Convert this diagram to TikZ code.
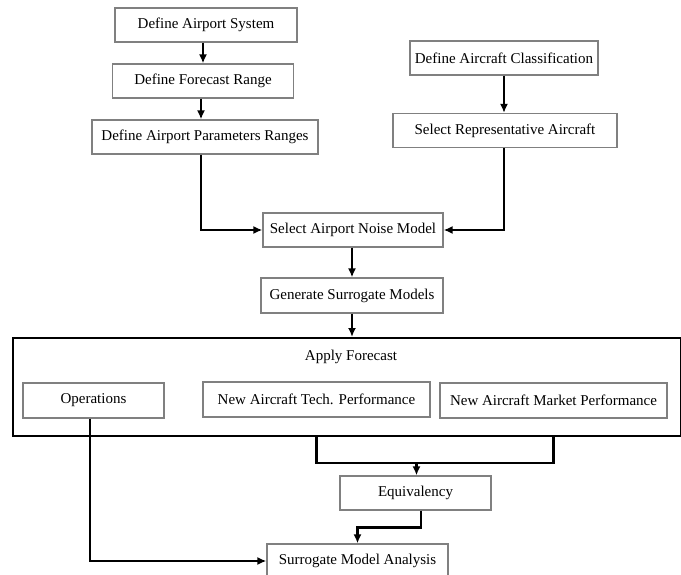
\documentclass[tikz,border=0pt]{standalone}
\usepackage{fontspec}
\setmainfont{Liberation Serif}
\usetikzlibrary{arrows.meta}
\begin{document}
\begin{tikzpicture}[x=1pt,y=-1pt,
  box/.style={draw=black!50,line width=1.2pt,minimum height=34pt,inner sep=0pt,
    font=\fontsize{15}{18}\selectfont},
  arr/.style={line width=2.7pt,-{Latex[length=9pt,width=8pt]}},
  lnk/.style={line width=2.7pt}]
\useasboundingbox (0,0) rectangle (681,575);
% left column
\node[box,minimum width=182pt] (sys) at (206,25) {Define Airport System};
\node[box,minimum width=181pt] (range) at (203,81) {Define Forecast Range};
\node[box,minimum width=226pt] (params) at (205,137) {Define Airport Parameters Ranges};
% right column
\node[box,minimum width=188pt] (class) at (504,58) {Define Aircraft Classification};
\node[box,minimum width=224pt] (repr) at (505,130.5) {Select Representative Aircraft};
% middle
\node[box,minimum width=180pt] (noise) at (353,230) {Select Airport Noise Model};
\node[box,minimum width=182pt,minimum height=35pt] (surr) at (352,295.5) {Generate Surrogate Models};
% forecast block
\node[draw,line width=2pt,minimum width=668pt,minimum height=98pt,inner sep=0pt] (fcst) at (346.5,387) {};
\node[font=\fontsize{15}{18}\selectfont,inner sep=0pt] (apply) at (351,357) {Apply Forecast};
\node[box,minimum width=141pt,minimum height=35pt] (ops) at (93.5,400.5) {Operations};
\node[box,minimum width=227pt,minimum height=35pt] (tech) at (316.5,399.5) {New Aircraft Tech. Performance};
\node[box,minimum width=227pt,minimum height=35pt] (market) at (553.5,400.5) {New Aircraft Market Performance};
% bottom
\node[box,minimum width=151pt] (equiv) at (415.5,493) {Equivalency};
\node[box,minimum width=181pt] (analysis) at (357.5,561) {Surrogate Model Analysis};
\coordinate (j) at (416.5,463);

\draw[arr] (sys.south -| range.north) -- (range.north);
\draw[arr] (range.south -| 201,0) -- (201,0 |- params.north);
\draw[arr] (class.south -| 504,0) -- (504,0 |- repr.north);
\draw[arr] (params.south -| 201,0) |- (noise.west);
\draw[arr] (repr.south -| 504,0) |- (noise.east);
\draw[arr] (noise.south -| surr.north) -- (surr.north);
\draw[arr] (surr.south) -- (surr.south |- fcst.north);
\draw[lnk] (tech.south |- fcst.south) |- (j) -| (market.south |- fcst.south);
\draw[arr] (j) -- (j |- equiv.north);
\draw[arr] ([xshift=5.5pt]equiv.south) -- ++(0,17) -| (analysis.north);
\draw[arr] (ops.south -| 90,0) |- (analysis.west);
\end{tikzpicture}
\end{document}
